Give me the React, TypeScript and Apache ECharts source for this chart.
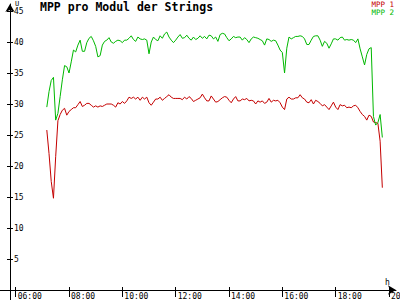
import React, { useEffect, useRef } from "react";
import * as echarts from "echarts";

const TITLE = "MPP pro Modul der Strings";
const SERIES_NAMES = ["MPP 1", "MPP 2"];
const SERIES_COLORS = ["#c40000", "#00b800"];
const Y_UNIT = "U";
const X_UNIT = "h";
const X_TICKS = ["06:00", "08:00", "10:00", "12:00", "14:00", "16:00", "18:00", "20:00"];
const Y_TICKS = [5, 10, 15, 20, 25, 30, 35, 40, 45];

const TIMES = [
  "07:10", "07:15", "07:20", "07:25", "07:30", "07:35", "07:40", "07:45", "07:50", "07:55",
  "08:00", "08:05", "08:10", "08:15", "08:20", "08:25", "08:30", "08:35", "08:40", "08:45", "08:50", "08:55",
  "09:00", "09:05", "09:10", "09:15", "09:20", "09:25", "09:30", "09:35", "09:40", "09:45", "09:50", "09:55",
  "10:00", "10:05", "10:10", "10:15", "10:20", "10:25", "10:30", "10:35", "10:40", "10:45", "10:50", "10:55",
  "11:00", "11:05", "11:10", "11:15", "11:20", "11:25", "11:30", "11:35", "11:40", "11:45", "11:50", "11:55",
  "12:00", "12:05", "12:10", "12:15", "12:20", "12:25", "12:30", "12:35", "12:40", "12:45", "12:50", "12:55",
  "13:00", "13:05", "13:10", "13:15", "13:20", "13:25", "13:30", "13:35", "13:40", "13:45", "13:50", "13:55",
  "14:00", "14:05", "14:10", "14:15", "14:20", "14:25", "14:30", "14:35", "14:40", "14:45", "14:50", "14:55",
  "15:00", "15:05", "15:10", "15:15", "15:20", "15:25", "15:30", "15:35", "15:40", "15:45", "15:50", "15:55",
  "16:00", "16:05", "16:10", "16:15", "16:20", "16:25", "16:30", "16:35", "16:40", "16:45", "16:50", "16:55",
  "17:00", "17:05", "17:10", "17:15", "17:20", "17:25", "17:30", "17:35", "17:40", "17:45", "17:50", "17:55",
  "18:00", "18:05", "18:10", "18:15", "18:20", "18:25", "18:30", "18:35", "18:40", "18:45", "18:50", "18:55",
  "19:00", "19:05", "19:10", "19:15", "19:20", "19:25", "19:30", "19:35", "19:40", "19:45",
];

const MPP1 = [
  25.8, 22.0, 17.5, 14.8, 21.5, 27.3, 28.3, 29.0, 29.3, 28.2,
  28.8, 29.1, 29.4, 29.4, 29.9, 30.4, 29.6, 29.8, 30.1, 30.1, 29.8, 29.5,
  29.7, 29.5, 29.7, 29.6, 29.8, 30.0, 30.0, 30.0, 29.8, 29.5, 30.2, 30.0,
  30.4, 30.1, 30.5, 31.1, 30.9, 31.1, 30.8, 31.1, 30.6, 31.1, 30.8, 31.1,
  30.2, 29.8, 30.3, 30.8, 30.8, 31.1, 30.6, 30.9, 31.2, 31.5, 31.1, 30.9,
  30.9, 30.9, 30.9, 30.7, 31.1, 30.8, 31.2, 30.9, 30.4, 30.6, 30.8, 31.0,
  31.6, 31.0, 30.5, 30.5, 31.3, 30.8, 30.3, 30.4, 30.7, 31.0, 31.2, 31.1,
  30.6, 30.2, 30.8, 31.2, 30.5, 30.5, 30.8, 30.7, 30.9, 30.5, 30.6, 30.5,
  30.0, 30.5, 30.3, 30.5, 30.1, 30.3, 30.9, 30.3, 30.6, 30.5, 30.6, 30.2,
  29.5, 29.1, 30.8, 31.1, 30.8, 30.8, 31.0, 31.0, 31.5, 31.0, 30.8, 30.3,
  30.2, 30.7, 30.0, 30.6, 30.4, 30.1, 29.7, 29.9, 29.5, 29.1, 29.7, 30.3,
  29.5, 29.1, 29.9, 29.7, 29.8, 29.4, 29.5, 29.4, 29.7, 29.8, 29.4, 28.8,
  28.3, 28.0, 27.4, 28.2, 28.0, 27.1, 27.0, 26.9, 24.0, 16.5,
];

const MPP2 = [
  29.5, 32.0, 33.8, 34.3, 27.4, 28.5, 31.2, 33.9, 36.2, 36.0,
  35.0, 36.8, 38.7, 38.4, 39.5, 40.3, 38.5, 38.5, 39.9, 40.6, 40.9, 40.2,
  39.3, 37.6, 37.8, 39.5, 40.1, 40.3, 40.7, 40.0, 39.8, 40.1, 40.3, 40.2,
  39.9, 40.3, 40.3, 40.6, 41.0, 40.4, 40.1, 40.8, 40.5, 40.4, 40.5, 40.3,
  38.1, 40.0, 40.8, 40.4, 40.2, 41.0, 40.6, 41.3, 41.6, 40.8, 40.3, 39.9,
  40.3, 40.8, 41.2, 40.6, 40.7, 41.1, 40.6, 40.3, 40.8, 40.4, 40.6, 41.0,
  40.6, 40.9, 40.5, 41.1, 41.0, 40.5, 40.8, 40.1, 41.2, 41.4, 41.3, 40.7,
  40.2, 40.5, 40.9, 40.7, 40.8, 40.8, 40.3, 40.7, 40.4, 39.9, 40.5, 40.8,
  40.7, 40.6, 40.4, 40.2, 39.5, 40.5, 40.4, 40.1, 40.3, 40.2, 39.5, 38.7,
  38.3, 35.0, 39.0, 40.8, 40.5, 40.7, 40.9, 40.9, 41.0, 40.9, 40.5, 39.6,
  39.6, 40.3, 40.9, 41.0, 41.0, 40.3, 39.3, 40.1, 39.8, 39.0, 39.7, 40.5,
  40.5, 40.3, 40.7, 40.8, 40.3, 40.4, 40.3, 40.4, 40.3, 39.9, 40.5, 38.9,
  37.6, 36.3, 38.0, 38.9, 39.1, 28.0, 26.6, 27.0, 28.3, 24.6,
];

const toMin = (s: string) => {
  const [h, m] = s.split(":").map(Number);
  return h * 60 + m;
};
const pad = (n: number) => (n < 10 ? "0" + n : "" + n);
const fmtTime = (v: number) => pad(Math.floor(v / 60)) + ":" + pad(Math.round(v % 60));

const FONT = "DejaVu Sans Mono";
const X_MIN = 347.2;
const X_MAX = 1215.75;
const Y_MIN = 0;
const Y_MAX = 46.13;

export default function App() {
  const ref = useRef<HTMLDivElement>(null);
  useEffect(() => {
    if (!ref.current) return;
    const chart = echarts.init(ref.current, null, { renderer: "svg" });
    const xTickVals = X_TICKS.map(toMin);
    const axisColor = "#000";
    chart.setOption({
      animation: false,
      backgroundColor: "#fff",
      title: {
        text: TITLE,
        left: 40,
        top: 1,
        padding: 0,
        textStyle: { fontFamily: FONT, fontWeight: "bold", fontSize: 11.5, color: "#000" },
      },
      grid: { left: 10, right: 4, top: 4, bottom: 10, containLabel: false, outerBoundsMode: "none" },
      xAxis: [
        {
          type: "value",
          position: "bottom",
          min: X_MIN,
          max: X_MAX,
          axisLine: {
            show: true,
            onZero: false,
            symbol: ["none", "arrow"],
            symbolSize: [7, 8],
            lineStyle: { color: axisColor, width: 1 },
          },
          axisTick: { show: true, customValues: xTickVals, length: 7, lineStyle: { color: axisColor } },
          axisLabel: {
            show: true,
            customValues: xTickVals,
            formatter: (v: number) => fmtTime(v),
            align: "left",
            margin: 2,
            padding: [0, 0, 0, 2],
            fontFamily: FONT,
            fontSize: 8,
            color: "#000",
          },
          splitLine: { show: false },
        },
        {
          type: "value",
          position: "bottom",
          min: X_MIN,
          max: X_MAX,
          axisLine: { show: false, onZero: false },
          axisTick: { show: true, inside: true, customValues: xTickVals, length: 3, lineStyle: { color: axisColor } },
          axisLabel: { show: false },
          splitLine: { show: false },
        },
      ],
      yAxis: [
        {
          type: "value",
          position: "left",
          min: Y_MIN,
          max: Y_MAX,
          axisLine: {
            show: true,
            onZero: false,
            symbol: ["none", "arrow"],
            symbolSize: [7, 8],
            lineStyle: { color: axisColor, width: 1 },
          },
          axisTick: { show: true, customValues: Y_TICKS, length: 3, lineStyle: { color: axisColor } },
          axisLabel: {
            show: true,
            customValues: Y_TICKS,
            inside: true,
            margin: 4,
            fontFamily: FONT,
            fontSize: 8,
            color: "#000",
          },
          splitLine: { show: false },
        },
        {
          type: "value",
          position: "left",
          min: Y_MIN,
          max: Y_MAX,
          axisLine: { show: false, onZero: false },
          axisTick: { show: true, inside: true, customValues: Y_TICKS, length: 3, lineStyle: { color: axisColor } },
          axisLabel: { show: false },
          splitLine: { show: false },
        },
      ],
      series: [MPP1, MPP2].map((vals, k) => ({
        name: SERIES_NAMES[k],
        type: "line",
        xAxisIndex: 0,
        yAxisIndex: 0,
        showSymbol: false,
        symbol: "none",
        lineStyle: { color: SERIES_COLORS[k], width: 1 },
        itemStyle: { color: SERIES_COLORS[k] },
        data: TIMES.map((t, i) => [toMin(t), vals[i]]),
      })),
      graphic: [
        { type: "line", shape: { x1: 0, y1: 290.5, x2: 10, y2: 290.5 }, style: { stroke: "#000", lineWidth: 1 } },
        { type: "line", shape: { x1: 10.5, y1: 290, x2: 10.5, y2: 300 }, style: { stroke: "#000", lineWidth: 1 } },
        { type: "text", x: 15, y: 0, style: { text: Y_UNIT, font: `7px "${FONT}"`, fill: "#000" } },
        { type: "text", x: 385, y: 278, style: { text: X_UNIT, font: `8px "${FONT}"`, fill: "#000" } },
        {
          type: "text",
          x: 394,
          y: 0.5,
          style: {
            text: SERIES_NAMES[0],
            font: `7.5px "${FONT}"`,
            fill: SERIES_COLORS[0],
            align: "right",
            verticalAlign: "top",
          },
        },
        {
          type: "text",
          x: 394,
          y: 8.3,
          style: {
            text: SERIES_NAMES[1],
            font: `7.5px "${FONT}"`,
            fill: SERIES_COLORS[1],
            align: "right",
            verticalAlign: "top",
          },
        },
      ],
    });
    return () => chart.dispose();
  }, []);
  return (
    <div
      ref={ref}
      style={{ position: "fixed", left: 0, top: 0, width: 400, height: 300, background: "#fff" }}
    />
  );
}
